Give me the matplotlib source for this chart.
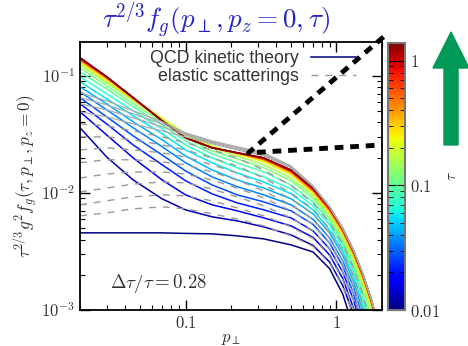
import numpy as np
import matplotlib.pyplot as plt
import matplotlib.colors as mcolors
from matplotlib.cm import ScalarMappable
from matplotlib.lines import Line2D
from matplotlib.patches import FancyArrow

plt.rcParams['mathtext.fontset'] = 'cm'
plt.rcParams['font.family'] = ['DejaVu Serif']

# momentum grid (p_perp) the curves were read at
p = [0.02, 0.03, 0.045, 0.07, 0.1, 0.15, 0.22, 0.33, 0.5, 0.7, 0.9, 1.1, 1.3, 1.5, 1.7, 1.9]

# times of the curves (colour), dtau/tau = 0.28
taus = [0.01, 0.0128, 0.0164, 0.021, 0.0268, 0.0344, 0.044, 0.0563, 0.0721, 0.0922, 0.118,
        0.151, 0.193, 0.248, 0.317, 0.406, 0.519, 0.665, 0.851, 1.09, 1.39]

# QCD kinetic theory, tau^(2/3) g^2 f_g at each p
qcd = [
    [4.56e-3, 4.56e-3, 4.56e-3, 4.56e-3, 4.51e-3, 4.47e-3, 4.30e-3, 4.05e-3, 3.60e-3, 3.13e-3, 2.26e-3, 1.37e-3, 7.0e-4, 2.95e-4, 1.04e-4, 3.07e-5],
    [3.60e-2, 2.03e-2, 1.29e-2, 8.90e-3, 7.17e-3, 6.25e-3, 5.77e-3, 5.13e-3, 4.38e-3, 3.56e-3, 2.57e-3, 1.62e-3, 9.06e-4, 4.46e-4, 1.95e-4, 7.6e-5],
    [4.93e-2, 3.13e-2, 1.99e-2, 1.29e-2, 9.63e-3, 7.91e-3, 7.03e-3, 6.12e-3, 5.23e-3, 4.17e-3, 2.96e-3, 1.86e-3, 1.03e-3, 5.12e-4, 2.24e-4, 8.7e-5],
    [5.77e-2, 3.89e-2, 2.57e-2, 1.74e-2, 1.27e-2, 9.82e-3, 8.22e-3, 7.17e-3, 6.12e-3, 4.74e-3, 3.33e-3, 2.11e-3, 1.21e-3, 6.23e-4, 2.94e-4, 1.24e-4],
    [6.50e-2, 4.47e-2, 3.07e-2, 2.11e-2, 1.54e-2, 1.17e-2, 9.63e-3, 8.39e-3, 7.03e-3, 5.39e-3, 3.74e-3, 2.38e-3, 1.37e-3, 7.15e-4, 3.42e-4, 1.48e-4],
    [7.31e-2, 5.13e-2, 3.60e-2, 2.48e-2, 1.81e-2, 1.37e-2, 1.13e-2, 9.63e-3, 7.91e-3, 5.95e-3, 4.13e-3, 2.63e-3, 1.56e-3, 8.54e-4, 4.33e-4, 2.03e-4],
    [8.06e-2, 5.77e-2, 4.05e-2, 2.84e-2, 2.07e-2, 1.57e-2, 1.29e-2, 1.10e-2, 8.90e-3, 6.63e-3, 4.56e-3, 2.93e-3, 1.74e-3, 9.7e-4, 5.0e-4, 2.42e-4],
    [8.90e-2, 6.37e-2, 4.56e-2, 3.20e-2, 2.33e-2, 1.81e-2, 1.48e-2, 1.24e-2, 9.82e-3, 7.17e-3, 4.84e-3, 3.17e-3, 1.91e-3, 1.09e-3, 5.88e-4, 2.98e-4],
    [9.82e-2, 7.03e-2, 5.03e-2, 3.53e-2, 2.57e-2, 1.99e-2, 1.64e-2, 1.37e-2, 1.08e-2, 7.75e-3, 5.34e-3, 3.43e-3, 2.11e-3, 1.22e-3, 6.74e-4, 3.56e-4],
    [0.108, 7.75e-2, 5.44e-2, 3.82e-2, 2.78e-2, 2.16e-2, 1.81e-2, 1.51e-2, 1.17e-2, 8.39e-3, 5.72e-3, 3.74e-3, 2.31e-3, 1.37e-3, 7.66e-4, 4.12e-4],
    [0.117, 8.22e-2, 5.77e-2, 4.05e-2, 2.96e-2, 2.29e-2, 1.95e-2, 1.64e-2, 1.27e-2, 8.98e-3, 6.06e-3, 3.97e-3, 2.48e-3, 1.50e-3, 8.7e-4, 4.83e-4],
    [0.124, 8.73e-2, 6.12e-2, 4.21e-2, 3.13e-2, 2.43e-2, 2.07e-2, 1.74e-2, 1.34e-2, 9.44e-3, 6.43e-3, 4.21e-3, 2.68e-3, 1.64e-3, 9.7e-4, 5.54e-4],
    [0.129, 9.07e-2, 6.25e-2, 4.38e-2, 3.20e-2, 2.52e-2, 2.16e-2, 1.84e-2, 1.43e-2, 9.9e-3, 6.69e-3, 4.38e-3, 2.81e-3, 1.75e-3, 1.06e-3, 6.23e-4],
    [0.132, 9.25e-2, 6.25e-2, 4.13e-2, 2.96e-2, 2.43e-2, 2.16e-2, 1.88e-2, 1.45e-2, 1.01e-2, 6.82e-3, 4.47e-3, 2.90e-3, 1.81e-3, 1.10e-3, 6.6e-4],
    [0.134, 9.44e-2, 6.37e-2, 4.13e-2, 2.96e-2, 2.43e-2, 2.16e-2, 1.92e-2, 1.48e-2, 1.03e-2, 6.96e-3, 4.56e-3, 2.96e-3, 1.84e-3, 1.14e-3, 6.74e-4],
    [0.137, 9.63e-2, 6.37e-2, 4.13e-2, 2.96e-2, 2.43e-2, 2.20e-2, 1.92e-2, 1.51e-2, 1.05e-2, 7.10e-3, 4.69e-3, 3.01e-3, 1.90e-3, 1.17e-3, 7.0e-4],
    [0.137, 9.63e-2, 6.50e-2, 4.13e-2, 2.96e-2, 2.43e-2, 2.20e-2, 1.95e-2, 1.51e-2, 1.05e-2, 7.24e-3, 4.79e-3, 3.07e-3, 1.95e-3, 1.19e-3, 7.15e-4],
    [0.140, 9.82e-2, 6.50e-2, 4.13e-2, 2.96e-2, 2.43e-2, 2.20e-2, 1.95e-2, 1.54e-2, 1.07e-2, 7.31e-3, 4.84e-3, 3.10e-3, 1.95e-3, 1.19e-3, 7.15e-4],
    [0.140, 9.82e-2, 6.50e-2, 4.13e-2, 2.96e-2, 2.43e-2, 2.20e-2, 1.99e-2, 1.54e-2, 1.08e-2, 7.31e-3, 4.88e-3, 3.17e-3, 1.99e-3, 1.23e-3, 7.37e-4],
    [0.143, 9.82e-2, 6.50e-2, 4.13e-2, 2.96e-2, 2.43e-2, 2.20e-2, 1.99e-2, 1.57e-2, 1.09e-2, 7.45e-3, 4.93e-3, 3.17e-3, 1.99e-3, 1.23e-3, 7.37e-4],
    [0.143, 9.82e-2, 6.50e-2, 4.13e-2, 2.96e-2, 2.43e-2, 2.20e-2, 1.99e-2, 1.57e-2, 1.10e-2, 7.53e-3, 4.98e-3, 3.20e-3, 2.01e-3, 1.23e-3, 7.3e-4],
]

# elastic scatterings only (grey dashed)
elastic = [
    [6.37e-3, 6.76e-3, 7.31e-3, 7.60e-3, 7.31e-3, 6.63e-3, 6.00e-3, 5.23e-3, 4.30e-3, 3.49e-3, 2.52e-3, 1.59e-3, 8.9e-4, 4.37e-4, 1.91e-4, 7.4e-5],
    [7.91e-3, 8.56e-3, 9.25e-3, 9.63e-3, 9.44e-3, 8.56e-3, 7.45e-3, 6.37e-3, 5.13e-3, 4.09e-3, 2.90e-3, 1.82e-3, 1.01e-3, 5.0e-4, 2.19e-4, 8.5e-5],
    [1.02e-2, 1.10e-2, 1.19e-2, 1.24e-2, 1.22e-2, 1.08e-2, 9.25e-3, 7.75e-3, 6.12e-3, 4.74e-3, 3.33e-3, 2.11e-3, 1.21e-3, 6.23e-4, 2.94e-4, 1.24e-4],
    [1.34e-2, 1.45e-2, 1.51e-2, 1.51e-2, 1.45e-2, 1.29e-2, 1.10e-2, 9.07e-3, 7.03e-3, 5.39e-3, 3.74e-3, 2.38e-3, 1.37e-3, 7.15e-4, 3.42e-4, 1.48e-4],
    [1.81e-2, 1.92e-2, 1.92e-2, 1.84e-2, 1.74e-2, 1.51e-2, 1.29e-2, 1.04e-2, 7.91e-3, 5.95e-3, 4.13e-3, 2.63e-3, 1.56e-3, 8.54e-4, 4.33e-4, 2.03e-4],
    [2.33e-2, 2.43e-2, 2.33e-2, 2.20e-2, 2.03e-2, 1.74e-2, 1.48e-2, 1.17e-2, 8.90e-3, 6.63e-3, 4.56e-3, 2.93e-3, 1.74e-3, 9.7e-4, 5.0e-4, 2.42e-4],
    [3.01e-2, 3.01e-2, 2.84e-2, 2.57e-2, 2.33e-2, 1.99e-2, 1.70e-2, 1.34e-2, 1.00e-2, 7.31e-3, 4.93e-3, 3.23e-3, 1.95e-3, 1.11e-3, 6.0e-4, 3.04e-4],
    [3.89e-2, 3.74e-2, 3.39e-2, 3.01e-2, 2.68e-2, 2.33e-2, 1.99e-2, 1.57e-2, 1.15e-2, 8.22e-3, 5.60e-3, 3.67e-3, 2.26e-3, 1.34e-3, 7.5e-4, 4.04e-4],
]

# late elastic curves, overlapping and looking solid
elastic_late = [
    [4.93e-2, 4.47e-2, 3.89e-2, 3.39e-2, 3.01e-2, 2.63e-2, 2.33e-2, 2.07e-2, 1.64e-2, 1.13e-2, 7.60e-3, 4.98e-3, 3.20e-3, 2.01e-3, 1.23e-3, 7.3e-4],
    [5.77e-2, 5.13e-2, 4.38e-2, 3.67e-2, 3.13e-2, 2.68e-2, 2.38e-2, 2.11e-2, 1.67e-2, 1.13e-2, 7.60e-3, 4.98e-3, 3.20e-3, 2.01e-3, 1.23e-3, 7.3e-4],
    [6.50e-2, 5.66e-2, 4.74e-2, 3.89e-2, 3.20e-2, 2.73e-2, 2.43e-2, 2.16e-2, 1.67e-2, 1.14e-2, 7.60e-3, 5.03e-3, 3.23e-3, 2.03e-3, 1.24e-3, 7.44e-4],
    [7.17e-2, 6.12e-2, 5.03e-2, 4.05e-2, 3.26e-2, 2.78e-2, 2.48e-2, 2.20e-2, 1.70e-2, 1.15e-2, 7.68e-3, 5.03e-3, 3.23e-3, 2.03e-3, 1.24e-3, 7.44e-4],
]

# zoom indicator lines (point on the curve and two ends outside the axes)
zoom_p = [2.05, 0.261, 2.02]
zoom_f = [0.215, 0.022, 0.0257]

fig = plt.figure(figsize=(4.68, 3.46), dpi=100)
ax = fig.add_axes([0.171, 0.104, 0.645, 0.775])

cmap = plt.get_cmap('jet')
norm = mcolors.LogNorm(vmin=0.01, vmax=1.39)

for tau, f in zip(taus, qcd):
    ax.plot(p, f, color=cmap(norm(tau)), lw=1.1)
for f in elastic:
    ax.plot(p, f, color='#999999', lw=1.0, dashes=(5, 5))
for f in elastic_late:
    ax.plot(p, f, color='#aaaaaa', lw=0.9)

ax.plot(zoom_p, zoom_f, color='k', lw=3.5, dashes=(1.8, 1.4), clip_on=False, zorder=5)

ax.set_xscale('log')
ax.set_yscale('log')
ax.set_xlim(0.02, 2)
ax.set_ylim(1e-3, 0.195)

ax.set_xticks([0.1, 1])
ax.set_xticklabels(['$0.1$', '$1$'])
ax.set_yticks([1e-3, 1e-2, 1e-1])
ax.set_yticklabels(['$10^{-3}$', '$10^{-2}$', '$10^{-1}$'])
ax.tick_params(which='both', direction='in', top=True, right=True, labelsize=12,
               labelcolor='#333333')
ax.tick_params(which='major', length=7, width=1)
ax.tick_params(which='minor', length=3.5, width=0.8)
for s in ax.spines.values():
    s.set_linewidth(1.3)

ax.set_xlabel(r'$p_\perp$', fontsize=12, color='#333333')
ax.xaxis.set_label_coords(0.5, -0.075)
ax.set_ylabel(r'$\tau^{2/3}g^2f_g(\tau,p_\perp,p_z=0)$', fontsize=12.5, color='#333333', labelpad=1)

ax.text(0.10, 0.10, r'$\Delta\tau/\tau = 0.28$', transform=ax.transAxes, fontsize=13.5,
        color='#333333', va='center')

handles = [Line2D([], [], color=cmap(0.0), lw=1.1),
           Line2D([], [], color='#999999', lw=1.0, dashes=(5, 5))]
leg = ax.legend(handles, ['QCD kinetic theory', 'elastic scatterings'], loc='upper right',
                bbox_to_anchor=(0.913, 0.97), frameon=False, markerfirst=False,
                handlelength=2.5, labelspacing=0.05, handletextpad=0.7,
                borderpad=0, borderaxespad=0,
                prop={'family': 'Liberation Sans', 'size': 12.8})
for t in leg.get_texts():
    t.set_color('#333333')

fig.text(0.462, 0.94, r'$\tau^{2/3}f_g(p_\perp,p_z=0,\tau)$', color='#2424c8', fontsize=19.5,
         ha='center', va='center')

cax = fig.add_axes([0.829, 0.104, 0.036, 0.772])
cb = fig.colorbar(ScalarMappable(norm=norm, cmap=cmap), cax=cax)
cb.set_ticks([0.01, 0.1, 1])
cb.set_ticklabels(['$0.01$', '$0.1$', '$1$'])
cax.tick_params(which='both', direction='in', left=True, right=True, color='k',
                labelsize=12, labelcolor='#333333')
cax.tick_params(which='major', length=6)
cax.tick_params(which='minor', length=3.5)
cb.outline.set_edgecolor('#777777')
cb.outline.set_linewidth(1.5)
cb.set_label(r'$\tau$', fontsize=11, color='#333333', labelpad=4)

fig.add_artist(FancyArrow(0.9637, 0.581, 0, 0.3265, width=0.030, head_width=0.077,
                          head_length=0.104, length_includes_head=True, color='#009955',
                          transform=fig.transFigure))

fig.savefig('out.png', dpi=100)
